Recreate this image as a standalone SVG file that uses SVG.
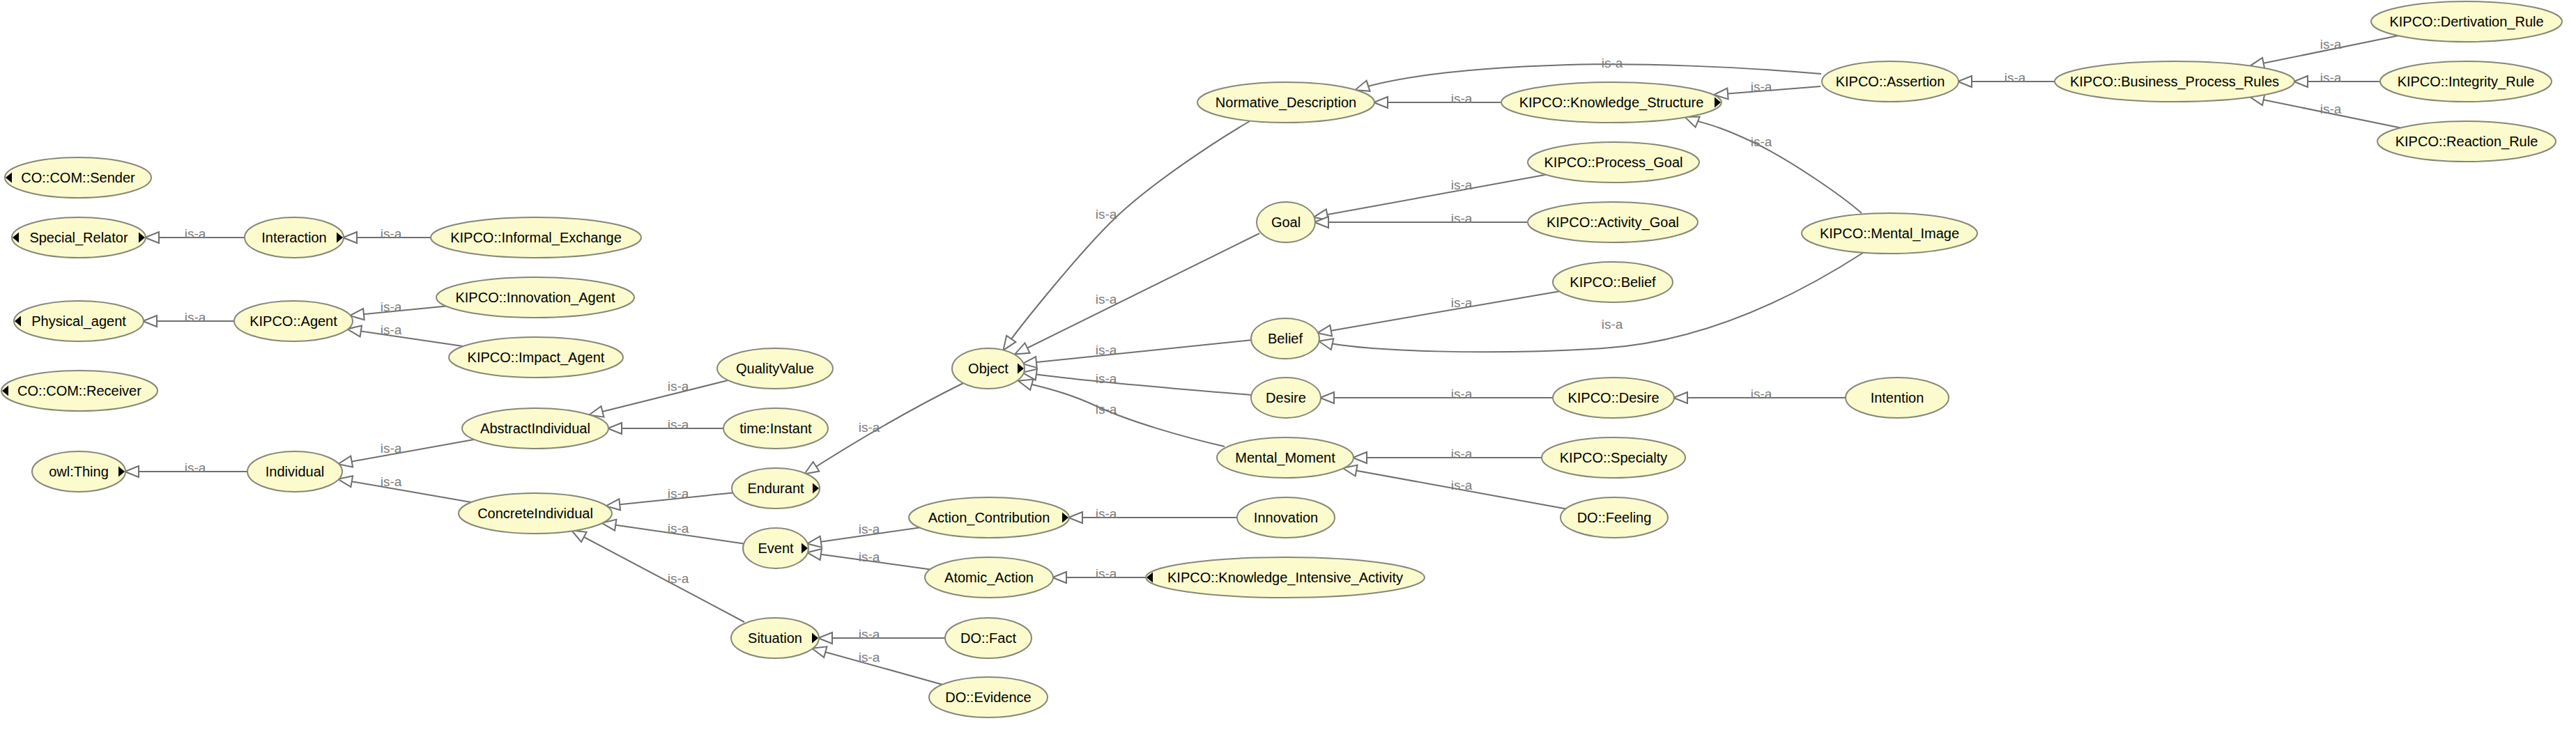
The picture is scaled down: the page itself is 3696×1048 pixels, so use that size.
<svg xmlns="http://www.w3.org/2000/svg" width="3696" height="1048" viewBox="0 0 3696 1048">
<style>
.node ellipse{fill:#fbfbcd;stroke:#87877a;stroke-width:2}
.node text{font-family:"Liberation Sans",Arial,sans-serif;font-size:20px;fill:#000;text-anchor:middle}
.ind{fill:#000}
.edge{fill:none;stroke:#6f6f6f;stroke-width:2;marker-end:url(#arr)}
.lbl{font-family:"Liberation Sans",Arial,sans-serif;font-size:19px;fill:#7c7c7c;text-anchor:middle}
</style>
<defs>
<marker id="arr" markerUnits="userSpaceOnUse" viewBox="-3 -11 26 22" refX="19" refY="0" markerWidth="26" markerHeight="22" orient="auto">
<path d="M20,0 L0,-8 L0,8 Z" fill="#fff" stroke="#6f6f6f" stroke-width="2"/>
</marker>
</defs>
<rect width="3696" height="1048" fill="#fff"/>
<g id="connectors">
<path class="edge" d="M351,341 L209,341"/>
<path class="edge" d="M618,341 L493,341"/>
<path class="edge" d="M336,461 L206,461"/>
<path class="edge" d="M640,439.5 L503,453"/>
<path class="edge" d="M664,497 L499,472.6"/>
<path class="edge" d="M355,677 L180,677"/>
<path class="edge" d="M680,631 L486,666"/>
<path class="edge" d="M676,721 L486,688"/>
<path class="edge" d="M1044.5,546 L846,595.5"/>
<path class="edge" d="M1038,615 L873,615"/>
<path class="edge" d="M1051.6,707.4 L870.3,726.3"/>
<path class="edge" d="M1067,780.4 L864.4,751"/>
<path class="edge" d="M1068,893 L821,762"/>
<path class="edge" d="M1382,550 Q1275,603 1155,680"/>
<path class="edge" d="M1319,757.4 L1159,780.4"/>
<path class="edge" d="M1334.6,817.4 L1159,793.3"/>
<path class="edge" d="M1356,916 L1175,916"/>
<path class="edge" d="M1352,982.7 L1166,931"/>
<path class="edge" d="M1793,174 C1740,205 1650,265 1600,313 S1462,470 1440,502"/>
<path class="edge" d="M1807,335 L1457,508"/>
<path class="edge" d="M1797,488 L1468,522"/>
<path class="edge" d="M1796,567 Q1560,548 1468,535"/>
<path class="edge" d="M1757,641 C1700,628 1620,605 1573,583 S1490,555 1462,547"/>
<path class="edge" d="M1775,743 L1534,743"/>
<path class="edge" d="M1644,829 L1511,829"/>
<path class="edge" d="M2154,147 L1972,147"/>
<path class="edge" d="M2613,106 C2500,96 2350,90 2250,93 S2020,105 1945,129"/>
<path class="edge" d="M2612,124 L2460,136"/>
<path class="edge" d="M2671,306 C2645,283 2570,230 2513,203 S2440,177 2418,168"/>
<path class="edge" d="M2673,363 C2600,410 2460,490 2300,500 S1960,505 1893,490"/>
<path class="edge" d="M2218,250.8 L1885.6,311.6"/>
<path class="edge" d="M2192,319 L1887,319"/>
<path class="edge" d="M2237.4,418.2 L1891,477.9"/>
<path class="edge" d="M2228,571 L1895,571"/>
<path class="edge" d="M2648,571 L2402,571"/>
<path class="edge" d="M2212,657 L1942,657"/>
<path class="edge" d="M2246.7,730.4 L1927.4,672.2"/>
<path class="edge" d="M2948,117 L2810,117"/>
<path class="edge" d="M3440.7,51.2 L3229,94.6"/>
<path class="edge" d="M3415,117 L3292,117"/>
<path class="edge" d="M3444,183.5 L3229,139.4"/>
<text class="lbl" x="280" y="342">is-a</text>
<text class="lbl" x="561" y="342">is-a</text>
<text class="lbl" x="280" y="462">is-a</text>
<text class="lbl" x="561" y="447">is-a</text>
<text class="lbl" x="561" y="480">is-a</text>
<text class="lbl" x="280" y="678">is-a</text>
<text class="lbl" x="561" y="650">is-a</text>
<text class="lbl" x="561" y="698">is-a</text>
<text class="lbl" x="973" y="561">is-a</text>
<text class="lbl" x="973" y="616">is-a</text>
<text class="lbl" x="973" y="715">is-a</text>
<text class="lbl" x="973" y="765">is-a</text>
<text class="lbl" x="973" y="837">is-a</text>
<text class="lbl" x="1247" y="620">is-a</text>
<text class="lbl" x="1247" y="766">is-a</text>
<text class="lbl" x="1247" y="806">is-a</text>
<text class="lbl" x="1247" y="917">is-a</text>
<text class="lbl" x="1247" y="950">is-a</text>
<text class="lbl" x="1587" y="314">is-a</text>
<text class="lbl" x="1587" y="436">is-a</text>
<text class="lbl" x="1587" y="509">is-a</text>
<text class="lbl" x="1587" y="550">is-a</text>
<text class="lbl" x="1587" y="594">is-a</text>
<text class="lbl" x="1587" y="744">is-a</text>
<text class="lbl" x="1587" y="830">is-a</text>
<text class="lbl" x="2097" y="148">is-a</text>
<text class="lbl" x="2313" y="97">is-a</text>
<text class="lbl" x="2527" y="131">is-a</text>
<text class="lbl" x="2527" y="210">is-a</text>
<text class="lbl" x="2313" y="472">is-a</text>
<text class="lbl" x="2097" y="272">is-a</text>
<text class="lbl" x="2097" y="320">is-a</text>
<text class="lbl" x="2097" y="441">is-a</text>
<text class="lbl" x="2097" y="572">is-a</text>
<text class="lbl" x="2527" y="572">is-a</text>
<text class="lbl" x="2097" y="658">is-a</text>
<text class="lbl" x="2097" y="703">is-a</text>
<text class="lbl" x="2891" y="118">is-a</text>
<text class="lbl" x="3344" y="70">is-a</text>
<text class="lbl" x="3344" y="118">is-a</text>
<text class="lbl" x="3344" y="163">is-a</text>
</g>
<g id="n-Sender" class="node"><ellipse cx="112" cy="255" rx="105" ry="29"/><polygon class="ind" points="17,247.5 8,255 17,262.5"/><text x="112" y="262">CO::COM::Sender</text></g>
<g id="n-Special_Relator" class="node"><ellipse cx="113" cy="341" rx="96" ry="29"/><polygon class="ind" points="27,333.5 18,341 27,348.5"/><polygon class="ind" points="199,333.5 208,341 199,348.5"/><text x="113" y="348">Special_Relator</text></g>
<g id="n-Physical_agent" class="node"><ellipse cx="113" cy="461" rx="93" ry="29"/><polygon class="ind" points="30,453.5 21,461 30,468.5"/><text x="113" y="468">Physical_agent</text></g>
<g id="n-Receiver" class="node"><ellipse cx="114" cy="561" rx="112" ry="29"/><polygon class="ind" points="12,553.5 3,561 12,568.5"/><text x="114" y="568">CO::COM::Receiver</text></g>
<g id="n-owl_Thing" class="node"><ellipse cx="113" cy="677" rx="67" ry="29"/><polygon class="ind" points="170,669.5 179,677 170,684.5"/><text x="113" y="684">owl:Thing</text></g>
<g id="n-Interaction" class="node"><ellipse cx="422" cy="341" rx="71" ry="29"/><polygon class="ind" points="483,333.5 492,341 483,348.5"/><text x="422" y="348">Interaction</text></g>
<g id="n-KIPCO_Agent" class="node"><ellipse cx="421" cy="461" rx="85" ry="29"/><text x="421" y="468">KIPCO::Agent</text></g>
<g id="n-Individual" class="node"><ellipse cx="423" cy="677" rx="68" ry="29"/><text x="423" y="684">Individual</text></g>
<g id="n-Informal_Exchange" class="node"><ellipse cx="769" cy="341" rx="151" ry="29"/><text x="769" y="348">KIPCO::Informal_Exchange</text></g>
<g id="n-Innovation_Agent" class="node"><ellipse cx="768" cy="427" rx="142" ry="29"/><text x="768" y="434">KIPCO::Innovation_Agent</text></g>
<g id="n-Impact_Agent" class="node"><ellipse cx="769" cy="513" rx="125" ry="29"/><text x="769" y="520">KIPCO::Impact_Agent</text></g>
<g id="n-AbstractIndividual" class="node"><ellipse cx="768" cy="615" rx="105" ry="29"/><text x="768" y="622">AbstractIndividual</text></g>
<g id="n-ConcreteIndividual" class="node"><ellipse cx="768" cy="737" rx="110" ry="29"/><text x="768" y="744">ConcreteIndividual</text></g>
<g id="n-QualityValue" class="node"><ellipse cx="1112" cy="529" rx="83" ry="29"/><text x="1112" y="536">QualityValue</text></g>
<g id="n-time_Instant" class="node"><ellipse cx="1113" cy="615" rx="75" ry="29"/><text x="1113" y="622">time:Instant</text></g>
<g id="n-Endurant" class="node"><ellipse cx="1113" cy="701" rx="63" ry="29"/><polygon class="ind" points="1166,693.5 1175,701 1166,708.5"/><text x="1113" y="708">Endurant</text></g>
<g id="n-Event" class="node"><ellipse cx="1113" cy="787" rx="47" ry="29"/><polygon class="ind" points="1150,779.5 1159,787 1150,794.5"/><text x="1113" y="794">Event</text></g>
<g id="n-Situation" class="node"><ellipse cx="1112" cy="916" rx="63" ry="29"/><polygon class="ind" points="1165,908.5 1174,916 1165,923.5"/><text x="1112" y="923">Situation</text></g>
<g id="n-Object" class="node"><ellipse cx="1418" cy="529" rx="52" ry="29"/><polygon class="ind" points="1460,521.5 1469,529 1460,536.5"/><text x="1418" y="536">Object</text></g>
<g id="n-Action_Contribution" class="node"><ellipse cx="1419" cy="743" rx="115" ry="29"/><polygon class="ind" points="1524,735.5 1533,743 1524,750.5"/><text x="1419" y="750">Action_Contribution</text></g>
<g id="n-Atomic_Action" class="node"><ellipse cx="1419" cy="829" rx="92" ry="29"/><text x="1419" y="836">Atomic_Action</text></g>
<g id="n-DO_Fact" class="node"><ellipse cx="1418" cy="916" rx="62" ry="29"/><text x="1418" y="923">DO::Fact</text></g>
<g id="n-DO_Evidence" class="node"><ellipse cx="1418" cy="1001" rx="85" ry="29"/><text x="1418" y="1008">DO::Evidence</text></g>
<g id="n-Normative_Description" class="node"><ellipse cx="1845" cy="147" rx="127" ry="29"/><text x="1845" y="154">Normative_Description</text></g>
<g id="n-Goal" class="node"><ellipse cx="1845" cy="319" rx="42" ry="29"/><text x="1845" y="326">Goal</text></g>
<g id="n-Belief" class="node"><ellipse cx="1844" cy="486" rx="49" ry="29"/><text x="1844" y="493">Belief</text></g>
<g id="n-Desire" class="node"><ellipse cx="1845" cy="571" rx="50" ry="29"/><text x="1845" y="578">Desire</text></g>
<g id="n-Mental_Moment" class="node"><ellipse cx="1844" cy="657" rx="98" ry="29"/><text x="1844" y="664">Mental_Moment</text></g>
<g id="n-Innovation" class="node"><ellipse cx="1845" cy="743" rx="70" ry="29"/><text x="1845" y="750">Innovation</text></g>
<g id="n-KIPCO_Knowledge_Intensive_Activity" class="node"><ellipse cx="1844" cy="829" rx="200" ry="29"/><polygon class="ind" points="1654,821.5 1645,829 1654,836.5"/><text x="1844" y="836">KIPCO::Knowledge_Intensive_Activity</text></g>
<g id="n-KIPCO_Knowledge_Structure" class="node"><ellipse cx="2312" cy="147" rx="158" ry="29"/><polygon class="ind" points="2460,139.5 2469,147 2460,154.5"/><text x="2312" y="154">KIPCO::Knowledge_Structure</text></g>
<g id="n-KIPCO_Process_Goal" class="node"><ellipse cx="2315" cy="233" rx="123" ry="29"/><text x="2315" y="240">KIPCO::Process_Goal</text></g>
<g id="n-KIPCO_Activity_Goal" class="node"><ellipse cx="2314" cy="319" rx="122" ry="29"/><text x="2314" y="326">KIPCO::Activity_Goal</text></g>
<g id="n-KIPCO_Belief" class="node"><ellipse cx="2314" cy="405" rx="86" ry="29"/><text x="2314" y="412">KIPCO::Belief</text></g>
<g id="n-KIPCO_Desire" class="node"><ellipse cx="2315" cy="571" rx="87" ry="29"/><text x="2315" y="578">KIPCO::Desire</text></g>
<g id="n-KIPCO_Specialty" class="node"><ellipse cx="2315" cy="657" rx="103" ry="29"/><text x="2315" y="664">KIPCO::Specialty</text></g>
<g id="n-DO_Feeling" class="node"><ellipse cx="2316" cy="743" rx="77" ry="29"/><text x="2316" y="750">DO::Feeling</text></g>
<g id="n-KIPCO_Assertion" class="node"><ellipse cx="2712" cy="117" rx="98" ry="29"/><text x="2712" y="124">KIPCO::Assertion</text></g>
<g id="n-KIPCO_Mental_Image" class="node"><ellipse cx="2711" cy="335" rx="126" ry="29"/><text x="2711" y="342">KIPCO::Mental_Image</text></g>
<g id="n-Intention" class="node"><ellipse cx="2722" cy="571" rx="74" ry="29"/><text x="2722" y="578">Intention</text></g>
<g id="n-KIPCO_Business_Process_Rules" class="node"><ellipse cx="3120" cy="117" rx="172" ry="29"/><text x="3120" y="124">KIPCO::Business_Process_Rules</text></g>
<g id="n-KIPCO_Dertivation_Rule" class="node"><ellipse cx="3539" cy="31" rx="137" ry="29"/><text x="3539" y="38">KIPCO::Dertivation_Rule</text></g>
<g id="n-KIPCO_Integrity_Rule" class="node"><ellipse cx="3538" cy="117" rx="123" ry="29"/><text x="3538" y="124">KIPCO::Integrity_Rule</text></g>
<g id="n-KIPCO_Reaction_Rule" class="node"><ellipse cx="3539" cy="203" rx="128" ry="29"/><text x="3539" y="210">KIPCO::Reaction_Rule</text></g>
</svg>
